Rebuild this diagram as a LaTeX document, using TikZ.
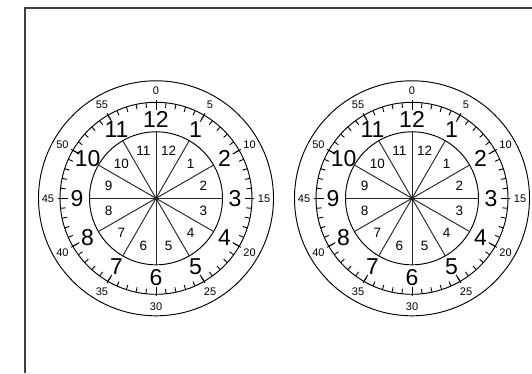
\documentclass[tikz,border=0pt]{standalone}
\usepackage{fontspec}
\setmainfont{Liberation Sans}
\usetikzlibrary{calc}

\begin{document}
\begin{tikzpicture}[x=1pt, y=1pt,
  hub/.style={circle, fill=black, inner sep=0pt, minimum size=4pt},
  ring/.style={circle, draw, line width=0.95pt, inner sep=0pt, outer sep=0pt},
  hour/.style={font=\fontsize{23}{23}\selectfont, inner sep=0pt},
  sector/.style={font=\fontsize{13.5}{13.5}\selectfont, inner sep=0pt},
  minute/.style={font=\fontsize{11}{11}\selectfont, inner sep=0pt},
  tick/.style={line width=0.9pt},
  spoke/.style={line width=0.95pt, black!85},
  frame/.style={line width=1.3pt, black!75}
]
\useasboundingbox (0,0) rectangle (532,373);

% page frame
\coordinate (fbl) at (25,0);
\coordinate (ftl) at (25,365);
\coordinate (ftr) at (532,365);
\draw[frame] (fbl) -- (ftl) -- (ftr);

\foreach \k/\cx in {1/156, 2/412} {
  \node[hub] (hub\k) at (\cx,174.7) {};
  \node[ring, minimum size=235pt] (rim\k) at (hub\k) {};
  \node[ring, minimum size=192pt] (scale\k) at (hub\k) {};
  \node[ring, minimum size=133pt] (dial\k) at (hub\k) {};

  % spokes
  \foreach \a in {0,30,...,330}
    \draw[spoke] (hub\k.center) -- (dial\k.\a);

  % minute ticks
  \foreach \m in {0,...,59}
    \draw[tick] ([shift={({90-6*\m}:96)}]hub\k.center) -- ([shift={({90-6*\m}:91)}]hub\k.center);
  \foreach \m in {0,5,...,55} {
    \draw[tick] ([shift={({90-6*\m}:98)}]hub\k.center) -- ([shift={({90-6*\m}:88.5)}]hub\k.center);
    \node[minute] (min\k-\m) at ([shift={({90-6*\m}:108)}]hub\k.center) {\m};
  }

  % hour numbers
  \foreach \h in {1,...,12} {
    \node[hour] (hr\k-\h) at ([shift={({90-30*\h}:79)}]hub\k.center) {\h};
    \node[sector] (sec\k-\h) at ([shift={({75-30*\h}:49)}]hub\k.center) {\h};
  }
}

\end{tikzpicture}
\end{document}
